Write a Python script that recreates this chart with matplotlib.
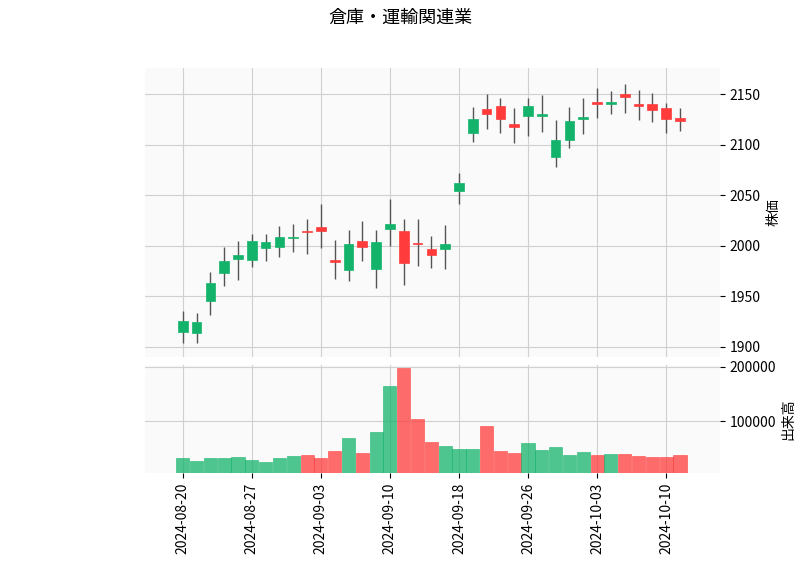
import matplotlib
matplotlib.use("Agg")
import matplotlib.pyplot as plt
import numpy as np
import pandas as pd

plt.rcParams['font.family'] = ['Noto Sans CJK JP', 'DejaVu Sans']

dates = pd.bdate_range("2024-08-20", "2024-10-11")
dates = [d for d in dates if d.strftime("%m-%d") not in ("09-16", "09-23")]
opens = [1915, 1914, 1945, 1973, 1987, 1986, 1998, 1999, 2008, 2015, 2019, 1986, 1976, 2005, 1977, 2017, 2015, 2003, 1997, 1997,
         2054, 2112, 2135, 2138, 2120, 2128, 2128, 2088, 2105, 2125, 2142, 2140, 2150, 2140, 2140, 2136, 2126]
closes = [1926, 1925, 1963, 1985, 1991, 2005, 2004, 2009, 2009, 2014, 2015, 1984, 2002, 1999, 2004, 2022, 1983, 2002, 1991, 2002,
          2062, 2125, 2130, 2125, 2118, 2138, 2130, 2105, 2123, 2127, 2140, 2142, 2147, 2138, 2134, 2125, 2123]
highs = [1936, 1934, 1974, 1999, 2005, 2012, 2012, 2020, 2022, 2027, 2041, 2006, 2016, 2025, 2016, 2046, 2027, 2027, 2010, 2021,
         2072, 2137, 2150, 2146, 2136, 2146, 2149, 2124, 2137, 2146, 2156, 2153, 2160, 2154, 2151, 2141, 2136]
lows = [1904, 1904, 1932, 1960, 1966, 1979, 1985, 1989, 1994, 1992, 1998, 1967, 1965, 1985, 1958, 2000, 1961, 1980, 1978, 1977,
        2041, 2103, 2116, 2112, 2102, 2109, 2113, 2078, 2097, 2111, 2126, 2130, 2131, 2124, 2122, 2112, 2114]
volumes = [33000, 27000, 33000, 33000, 35000, 29000, 25000, 33000, 36000, 38000, 33000, 45000, 69000, 42000, 80000, 165000,
           198000, 104000, 62000, 55000, 49000, 49000, 91000, 45000, 42000, 60000, 47000, 53000, 38000, 44000, 38000, 40000,
           40000, 36000, 35000, 35000, 38000]
title = "倉庫・運輸関連業"

up_c, dn_c = "#14b36b", "#ff3b3b"
fig = plt.figure(figsize=(8, 5.75), dpi=100)
ax = fig.add_axes([0.181, 0.379, 0.719, 0.503])
axv = fig.add_axes([0.181, 0.177, 0.719, 0.188], sharex=ax)
x = np.arange(len(dates))
for a in (ax, axv):
    a.set_facecolor("#fafafa")
    a.grid(True, color="#d0d0d0", lw=0.8)
    a.set_axisbelow(True)
    a.yaxis.tick_right()
    a.yaxis.set_label_position("right")
    for s in a.spines.values():
        s.set_visible(False)
for i in x:
    o, c, h, l = opens[i], closes[i], highs[i], lows[i]
    col = up_c if c >= o else dn_c
    ax.vlines(i, l, h, color="#555555", lw=1, zorder=2)
    ax.bar(i, max(abs(c - o), 0.8), bottom=min(o, c), width=0.7, color=col, edgecolor=col, lw=0.5, zorder=3)
    axv.bar(i, volumes[i], width=0.95, color=col, alpha=0.75, edgecolor=col, lw=0.5, zorder=3)
ax.set_ylim(1890, 2176)
ax.set_yticks([1900, 1950, 2000, 2050, 2100, 2150])
ax.set_xlim(-2.75, 38.9)
ax.tick_params(axis="x", labelbottom=False, length=0)
ax.set_ylabel("株価")
axv.set_ylim(5000, 203000)
axv.set_yticks([100000, 200000])
axv.set_ylabel("出来高")
ticks = list(range(0, len(dates), 5))
axv.set_xticks(ticks)
axv.set_xticklabels([dates[t].strftime("%Y-%m-%d") for t in ticks], rotation=90)
fig.suptitle(title, y=0.985, fontsize=13)
fig.savefig("out.png")
